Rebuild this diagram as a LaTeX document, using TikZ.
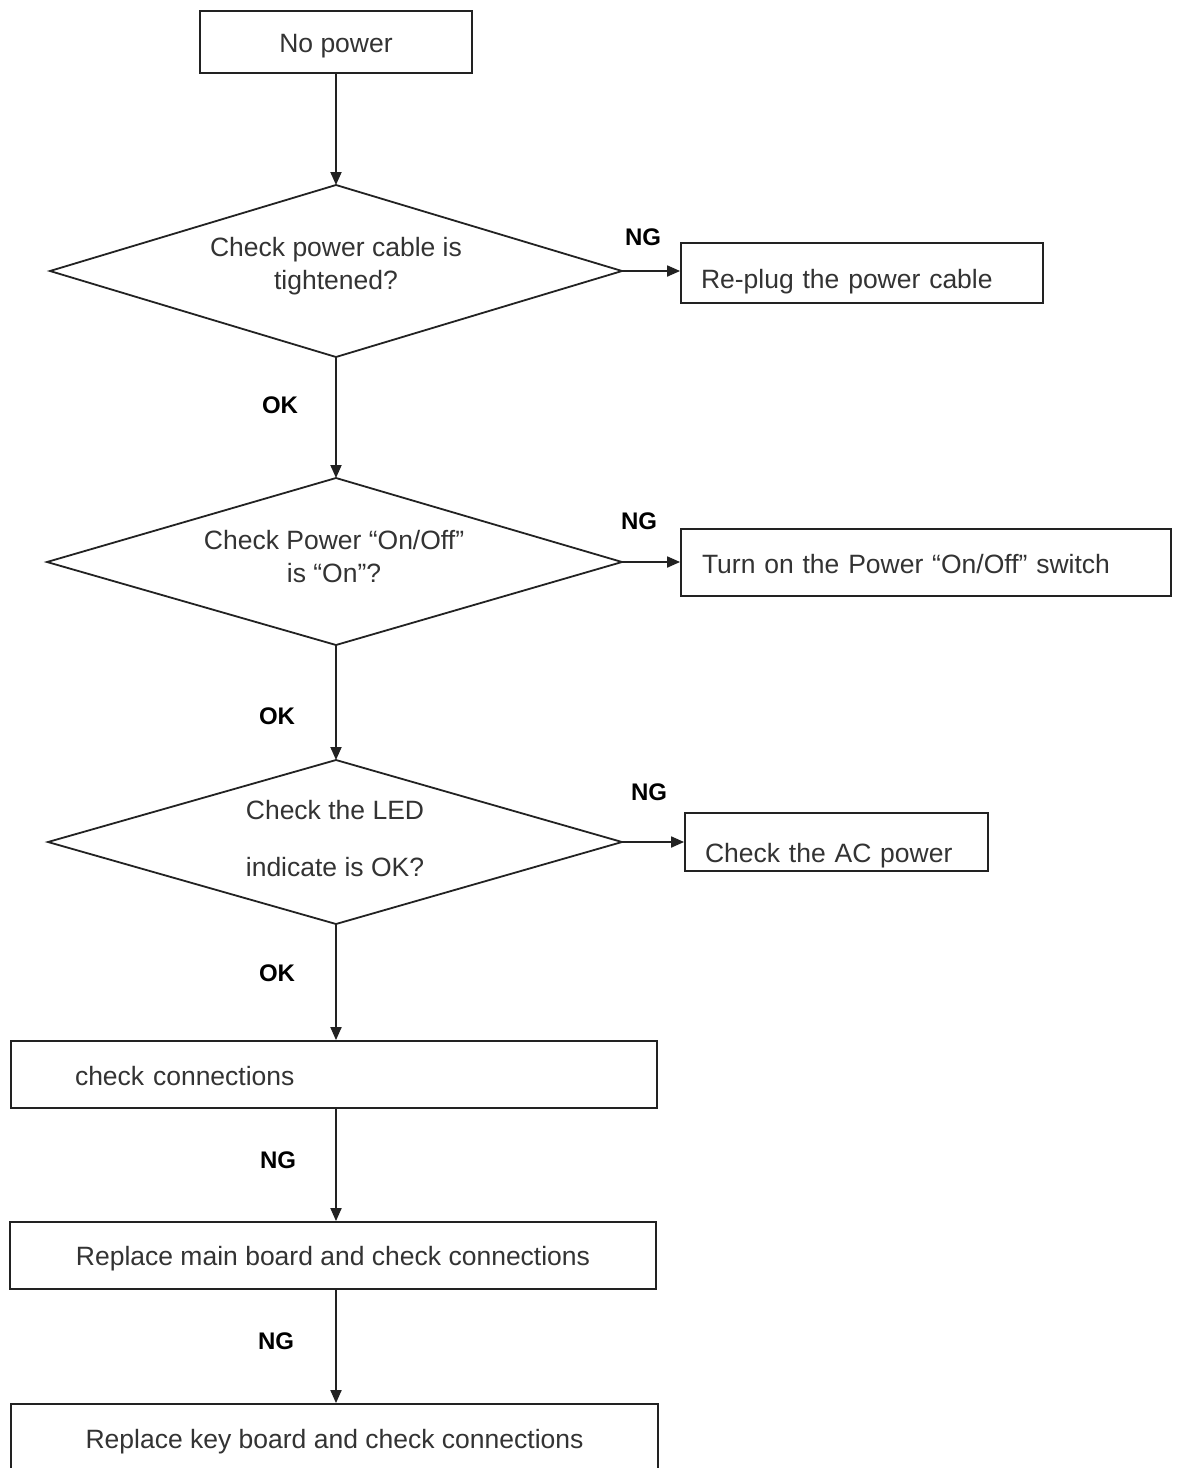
\documentclass[tikz,border=0pt]{standalone}
\usepackage{fontspec}
\setmainfont{Liberation Sans}
\usetikzlibrary{arrows.meta}
\definecolor{ink}{HTML}{222222}
\definecolor{txt}{HTML}{333333}
\begin{document}
\begin{tikzpicture}[x=1pt,y=-1pt,
  every node/.style={font=\fontsize{26.5}{31}\selectfont, text=txt},
  box/.style={draw=ink, line width=1.8pt, rectangle, inner sep=0pt, text height=25pt, text depth=5pt},
  dtext/.style={inner sep=0pt, align=center},
  lab/.style={font=\fontsize{24}{28}\selectfont\bfseries, text=black, inner sep=0pt},
  conn/.style={draw=ink, line width=1.8pt, -{Triangle[length=13pt,width=11pt]}},
  plain/.style={draw=ink, line width=1.8pt, line join=miter}
]
\useasboundingbox (0,0) rectangle (1178,1468);
\fill[white] (0,0) rectangle (1178,1468);

\node[box, minimum width=272pt, minimum height=62pt] (nopower) at (336,42) {No power};

% diamond 1
\coordinate (d1n) at (336,185);
\coordinate (d1s) at (336,357);
\coordinate (d1w) at (50,271);
\coordinate (d1e) at (622,271);
\draw[plain] (d1n) -- (d1e) -- (d1s) -- (d1w) -- cycle;
\node[dtext] (d1) at (336,266) {Check power cable is\\[2pt]tightened?};
\node[box, minimum width=362pt, minimum height=60pt, text width=322pt, align=left, inner xsep=20pt, text height=36pt] (replug) at (862,273) {Re-plug the power cable};

% diamond 2
\coordinate (d2n) at (336,478);
\coordinate (d2s) at (336,645);
\coordinate (d2w) at (47,562);
\coordinate (d2e) at (622,562);
\draw[plain] (d2n) -- (d2e) -- (d2s) -- (d2w) -- cycle;
\node[dtext] (d2) at (334,557) {Check Power “On/Off”\\[2pt]is “On”?};
\node[box, minimum width=490pt, minimum height=67pt, text width=448pt, align=left, inner xsep=21pt, text height=27pt] (turnon) at (926,562.5) {Turn on the Power “On/Off” switch};

% diamond 3
\coordinate (d3n) at (336,760);
\coordinate (d3s) at (336,924);
\coordinate (d3w) at (48,842);
\coordinate (d3e) at (622,842);
\draw[plain] (d3n) -- (d3e) -- (d3s) -- (d3w) -- cycle;
\node[dtext] (d3) at (335,839) {Check the LED\\[26pt]indicate is OK?};
\node[box, minimum width=303pt, minimum height=58pt, text width=263pt, align=left, inner xsep=20pt, text height=46pt] (acpower) at (836.5,842) {Check the AC power};

\node[box, minimum width=646pt, minimum height=67pt, text width=518pt, align=left, inner xsep=64pt, text height=27pt] (checkconn) at (334,1074.5) {check connections};
\node[box, minimum width=646pt, minimum height=67pt] (mainboard) at (333,1255.5) {Replace main board and check connections};
\node[box, minimum width=647pt, minimum height=68pt] (keyboard) at (334.5,1438) {Replace key board and check connections};

% connectors
\draw[conn] (nopower.south -| d1n) -- (d1n);
\draw[conn] (d1s) -- (d2n);
\draw[conn] (d2s) -- (d3n);
\draw[conn] (d3s) -- (d3s |- checkconn.north);
\draw[conn] (checkconn.south -| d3s) -- (d3s |- mainboard.north);
\draw[conn] (mainboard.south -| d3s) -- (d3s |- keyboard.north);

\draw[conn] (d1e) -- (d1e -| replug.west);
\draw[conn] (d2e) -- (d2e -| turnon.west);
\draw[conn] (d3e) -- (d3e -| acpower.west);

% labels
\node[lab] (ng1) at (643,237) {NG};
\node[lab] (ok1) at (280,405) {OK};
\node[lab] (ng2) at (639,521) {NG};
\node[lab] (ok2) at (277,716) {OK};
\node[lab] (ng3) at (649,792) {NG};
\node[lab] (ok3) at (277,973) {OK};
\node[lab] (ng4) at (278,1160) {NG};
\node[lab] (ng5) at (276,1341) {NG};
\end{tikzpicture}
\end{document}
